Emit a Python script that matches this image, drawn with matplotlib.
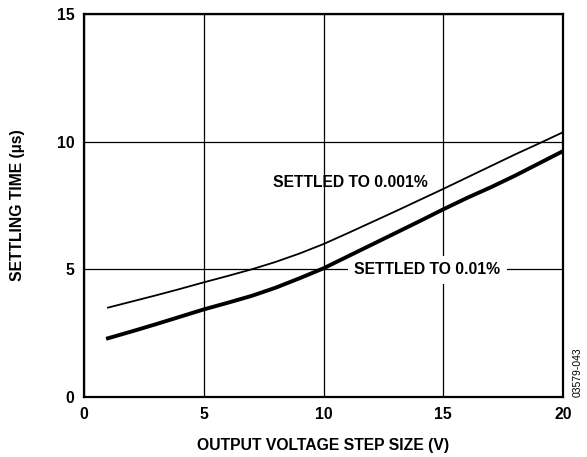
import matplotlib.pyplot as plt

plt.rcParams['font.family'] = ['Liberation Sans', 'DejaVu Sans']
plt.rcParams['font.weight'] = 'bold'

# step size (V) vs settling time (us)
step = [1, 2, 3, 4, 5, 6, 7, 8, 9, 10, 11, 12, 13, 14, 15, 16, 17, 18, 19, 20]
settle_001 = [3.50, 3.74, 3.98, 4.23, 4.49, 4.74, 5.00, 5.29, 5.62, 5.99,
              6.41, 6.84, 7.27, 7.71, 8.15, 8.60, 9.05, 9.50, 9.93, 10.37]
settle_01 = [2.30, 2.57, 2.85, 3.14, 3.43, 3.69, 3.96, 4.28, 4.65, 5.04,
             5.50, 5.96, 6.42, 6.88, 7.35, 7.80, 8.22, 8.67, 9.15, 9.63]

fig = plt.figure(figsize=(5.87, 4.57), dpi=100)
ax = fig.add_axes([84/587, 60/457, 479/587, 383/457])

ax.plot(step, settle_001, color='black', lw=1.3, zorder=3)
ax.plot(step, settle_01, color='black', lw=2.8, zorder=3)

ax.set_xlim(0, 20)
ax.set_ylim(0, 15)
ax.set_xticks([0, 5, 10, 15, 20])
ax.set_yticks([0, 5, 10, 15])
ax.grid(True, color='black', lw=0.9)
ax.tick_params(length=0, labelsize=11.3, pad=7)
for s in ax.spines.values():
    s.set_linewidth(1.6)

ax.set_xlabel('OUTPUT VOLTAGE STEP SIZE (V)', fontsize=11.3, fontweight='bold', labelpad=12)
ax.set_ylabel('SETTLING TIME (µs)', fontsize=11.3, fontweight='bold', labelpad=23)

ax.text(11.13, 8.4, 'SETTLED TO 0.001%', ha='center', va='center', fontsize=11.3, zorder=2.5)
ax.text(14.34, 4.98, 'SETTLED TO 0.01%', ha='center', va='center', fontsize=11.3, zorder=2.5,
        bbox=dict(facecolor='white', edgecolor='none', pad=4.5))

fig.text(578/587, 1 - 372/457, '03579-043', rotation=90, ha='center', va='center',
         fontsize=7.5, fontweight='normal')

fig.savefig('out.png', dpi=100)
